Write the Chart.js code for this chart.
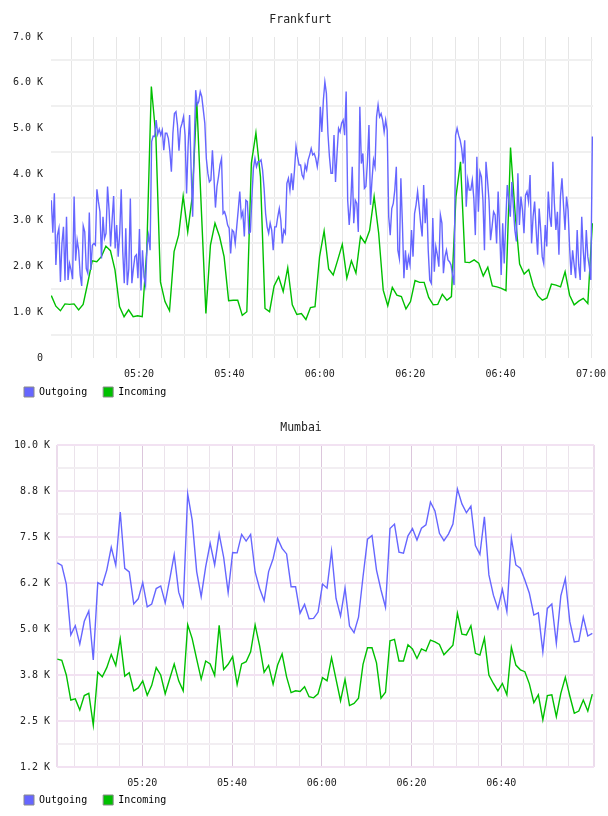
<!DOCTYPE html>
<html>
<head>
<meta charset="utf-8">
<title>Frankfurt / Mumbai traffic</title>
<script src="https://cdn.jsdelivr.net/npm/chart.js@4.4.1/dist/chart.umd.min.js"></script>
<style>
html,body{margin:0;padding:0;background:#fff;}
canvas{display:block;}
</style>
</head>
<body>
<canvas id="fra" width="608" height="407"></canvas>
<canvas id="mum" width="608" height="408"></canvas>
<script>
// time is minutes after 05:00, values are in K
const xLabelMinutes = [20, 40, 60, 80, 100, 120];
const fraXLabels = ["05:20", "05:40", "06:00", "06:20", "06:40", "07:00"];
const mumXLabels = ["05:20", "05:40", "06:00", "06:20", "06:40"];

const fraYValues = [0, 1, 2, 3, 4, 5, 6, 7];
const fraYLabels = ["0", "1.0 K", "2.0 K", "3.0 K", "4.0 K", "5.0 K", "6.0 K", "7.0 K"];
const mumYValues = [1.25, 2.5, 3.75, 5, 6.25, 7.5, 8.75, 10];
const mumYLabels = ["1.2 K", "2.5 K", "3.8 K", "5.0 K", "6.2 K", "7.5 K", "8.8 K", "10.0 K"];

// Frankfurt, outgoing sampled every ~20 s, incoming every ~1 min
const fraOutStart = 0.6, fraOutEnd = 120.3;
const fraOutgoing = [
  3.44,2.73,3.59,2.03,2.68,2.83,1.66,2.50,2.86,1.69,
  3.08,1.70,2.06,1.92,1.72,3.52,2.12,2.57,2.35,1.81,
  1.57,2.88,2.75,1.95,1.85,3.17,1.92,2.46,2.50,2.46,
  3.68,3.41,3.19,2.17,3.08,2.61,2.72,3.74,3.23,2.43,
  3.01,3.53,2.39,2.90,2.21,2.72,3.68,2.32,1.63,2.83,
  1.59,1.95,3.48,1.63,1.95,2.21,2.25,1.74,2.81,1.47,
  2.35,1.77,1.59,2.44,2.68,2.35,4.72,4.84,4.83,5.19,
  4.88,4.99,4.86,4.97,4.53,4.90,4.90,4.79,4.50,4.06,
  4.90,5.33,5.37,5.08,4.52,5.01,5.12,5.26,4.86,3.59,
  4.61,5.30,4.10,3.08,4.61,5.84,5.52,5.59,5.81,5.70,
  5.41,5.12,4.35,4.03,3.84,3.88,4.53,3.95,3.28,3.74,
  3.95,4.21,4.35,3.15,3.19,3.08,2.90,2.83,2.28,2.79,
  2.75,2.50,2.86,3.23,3.63,3.08,3.19,2.65,3.44,3.41,
  2.72,2.75,3.52,4.14,4.35,4.17,4.28,4.28,4.32,4.10,
  3.70,3.15,2.86,2.72,2.94,2.79,2.35,2.86,2.86,3.08,
  3.26,3.01,2.50,2.79,2.72,3.81,3.92,3.66,4.03,3.66,
  4.10,4.61,4.39,4.21,4.21,3.99,3.92,4.21,4.10,4.32,
  4.43,4.57,4.43,4.46,4.35,4.17,4.43,5.48,4.93,5.62,
  6.02,5.77,4.90,4.39,4.03,4.03,4.86,3.84,4.46,5.01,
  4.93,5.12,5.19,4.86,5.81,3.44,2.90,3.37,4.17,2.94,
  3.44,3.37,2.75,5.48,4.24,4.46,3.70,3.74,4.28,5.08,
  3.34,3.88,4.32,4.17,5.26,5.52,5.26,5.33,5.19,4.93,
  5.19,4.97,3.08,2.68,3.26,3.37,3.66,4.17,2.35,2.17,
  3.92,2.94,1.74,2.35,1.92,2.21,2.03,2.79,2.21,3.15,
  3.34,3.63,3.30,2.94,2.65,3.77,2.94,3.48,2.35,1.70,
  1.63,3.05,1.88,2.43,2.25,1.99,3.12,2.94,1.85,2.21,
  2.35,2.14,2.10,2.03,1.81,1.59,4.86,5.01,4.86,4.75,
  4.57,4.24,4.75,3.30,3.88,3.66,3.66,3.88,3.48,2.68,
  4.39,3.19,4.06,3.95,3.44,2.35,4.28,3.88,3.44,2.57,
  2.86,3.19,3.12,2.50,3.63,2.79,1.81,2.94,2.06,2.97,
  3.77,3.44,3.08,3.84,3.30,2.79,2.54,4.03,2.90,3.52,
  3.23,2.72,3.55,3.63,3.41,3.99,2.50,3.08,3.41,2.79,
  2.25,3.26,2.79,2.21,2.06,2.90,2.43,3.63,3.08,2.86,
  4.28,3.37,2.79,3.19,2.25,3.52,3.92,3.34,2.79,3.52,
  3.23,2.43,1.81,2.35,2.03,1.74,2.79,2.03,1.70,3.08,
  2.35,1.88,2.79,2.21,1.99,1.70,4.83
];
const fraInStart = 0.6, fraInEnd = 120.3;
const fraIncoming = [
  1.36,1.13,1.03,1.18,1.17,1.18,1.05,1.17,1.63,2.12,
  2.10,2.21,2.44,2.34,1.92,1.12,0.90,1.05,0.90,0.92,
  0.90,2.36,5.92,4.83,1.66,1.23,1.03,2.32,2.68,3.53,
  2.75,3.52,5.59,3.23,0.97,2.46,2.94,2.65,2.21,1.25,
  1.26,1.26,0.93,1.01,4.25,4.91,3.95,1.08,1.01,1.57,
  1.77,1.45,1.97,1.16,0.95,0.97,0.84,1.10,1.12,2.21,
  2.77,1.94,1.81,2.14,2.48,1.74,2.12,1.85,2.65,2.51,
  2.78,3.52,2.72,1.48,1.14,1.54,1.37,1.34,1.07,1.23,
  1.69,1.65,1.65,1.32,1.16,1.17,1.39,1.26,1.34,3.52,
  4.28,2.09,2.08,2.14,2.07,1.79,1.98,1.57,1.55,1.52,
  1.47,4.59,3.16,2.05,1.83,1.93,1.57,1.36,1.26,1.31,
  1.61,1.59,1.55,1.88,1.37,1.16,1.24,1.30,1.19,2.94
];

// Mumbai, both every ~1 min
const mumStart = 1.06, mumEnd = 120.28;
const mumOutgoing = [
  6.80,6.73,6.22,4.84,5.09,4.59,5.21,5.49,4.16,6.26,
  6.19,6.60,7.22,6.73,8.18,6.65,6.55,5.68,5.82,6.26,
  5.60,5.68,6.10,6.17,5.71,6.35,7.02,6.00,5.63,8.67,
  7.96,6.56,5.88,6.69,7.33,6.74,7.58,6.95,5.99,7.08,
  7.07,7.57,7.39,7.57,6.55,6.10,5.77,6.56,6.91,7.46,
  7.19,7.04,6.15,6.15,5.43,5.67,5.28,5.29,5.46,6.22,
  6.11,7.12,5.83,5.35,6.11,5.08,4.90,5.32,6.42,7.44,
  7.54,6.60,6.06,5.59,7.73,7.85,7.09,7.06,7.53,7.73,
  7.42,7.74,7.83,8.45,8.21,7.60,7.40,7.58,7.85,8.80,
  8.40,8.16,8.34,7.27,7.03,8.05,6.47,5.92,5.55,6.08,
  5.47,7.46,6.74,6.65,6.33,5.97,5.38,5.44,4.38,5.56,
  5.68,4.61,5.90,6.37,5.20,4.65,4.67,5.32,4.81,4.88
];
const mumIncoming = [
  4.18,4.15,3.75,3.07,3.10,2.80,3.19,3.25,2.39,3.83,
  3.70,3.95,4.31,4.01,4.73,3.72,3.81,3.32,3.40,3.59,
  3.20,3.47,3.95,3.75,3.24,3.65,4.05,3.59,3.32,5.12,
  4.74,4.18,3.64,4.13,4.05,3.74,5.10,3.90,4.04,4.25,
  3.49,4.05,4.11,4.38,5.11,4.54,3.82,4.01,3.50,4.02,
  4.32,3.70,3.27,3.32,3.30,3.43,3.16,3.13,3.24,3.68,
  3.59,4.22,3.63,3.05,3.63,2.92,2.98,3.12,4.04,4.49,
  4.49,4.08,3.12,3.28,4.68,4.72,4.13,4.13,4.57,4.46,
  4.20,4.46,4.40,4.70,4.65,4.58,4.30,4.43,4.56,5.43,
  4.86,4.84,5.09,4.34,4.29,4.75,3.75,3.52,3.32,3.52,
  3.21,4.50,4.02,3.89,3.84,3.51,3.00,3.21,2.53,3.19,
  3.21,2.62,3.25,3.69,3.18,2.71,2.77,3.07,2.77,3.23
];

const OUT = "rgb(102,102,255)";
const INC = "rgb(0,192,0)";

Chart.defaults.font.family = "'DejaVu Sans Mono', monospace";
Chart.defaults.font.size = 10;

function series(values, t0, t1){
  const step = (t1 - t0) / (values.length - 1);
  return values.map((v, i) => ({ x: t0 + i * step, y: v }));
}
function steps(from, to, step){
  const t = [];
  for (let v = from; v <= to + 1e-9; v += step) t.push(+v.toFixed(4));
  return t;
}
function labelAt(vals, labels, v){
  const i = vals.findIndex(x => Math.abs(x - v) < 1e-6);
  return i < 0 ? "" : labels[i];
}
function setTicks(list){ return ax => { ax.ticks = list.map(v => ({ value: v })); }; }
function noPad(ax){ ax.paddingLeft = ax.paddingRight = ax.paddingTop = ax.paddingBottom = 0; }

function legendOpts(){
  return {
    position: "bottom", align: "start",
    labels: {
      boxWidth: 10, boxHeight: 10, padding: 16, color: "#111", font: { size: 10 },
      generateLabels: ch => ch.data.datasets.map((d, i) => ({
        text: d.label, fillStyle: d.borderColor, strokeStyle: "#8a8a8a", lineWidth: 1, hidden: false, datasetIndex: i
      }))
    }
  };
}

function makeChart(id, c){
  return new Chart(document.getElementById(id), {
    type: "line",
    data: { datasets: [
      { label: "Outgoing", data: c.out, borderColor: OUT, borderWidth: 1.4 },
      { label: "Incoming", data: c.inc, borderColor: INC, borderWidth: 1.4 }
    ]},
    options: {
      responsive: false, animation: false,
      layout: { padding: { left: 8, right: c.padRight, top: 0, bottom: 0 } },
      elements: { point: { radius: 0 }, line: { tension: 0 } },
      plugins: {
        title: { display: true, text: c.title, color: "#222", font: { size: 11.5, weight: "normal" },
                 padding: { top: c.titleTop, bottom: c.titleBottom } },
        legend: legendOpts(),
        tooltip: { enabled: false }
      },
      scales: {
        x: {
          type: "linear", min: c.xMin, max: c.xMax,
          border: { display: false },
          afterBuildTicks: setTicks(c.xGrid),
          afterFit: ax => { ax.height = c.xHeight; noPad(ax); },
          grid: { drawTicks: false, color: c.xGridColor, lineWidth: c.xGridWidth || 1 },
          // mirror keeps the labels from being clipped to the short axis box;
          // the negative padding pushes them back below the plot
          ticks: { mirror: true, padding: -22, color: "#222", autoSkip: false, maxRotation: 0,
                   callback: v => labelAt(xLabelMinutes, c.xLabels, v) }
        },
        y: {
          min: c.yMin, max: c.yMax,
          border: { display: false },
          afterBuildTicks: setTicks(c.yGrid),
          afterFit: ax => { ax.width = c.yWidth; noPad(ax); },
          grid: { drawTicks: false, lineWidth: 2, color: c.yGridColor },
          ticks: { padding: c.yPad, color: "#222", autoSkip: false,
                   callback: v => labelAt(c.yVals, c.yLabels, v) }
        }
      }
    }
  });
}

makeChart("fra", {
  title: "Frankfurt", titleTop: 13, titleBottom: 10.2, padRight: 15,
  out: series(fraOutgoing, fraOutStart, fraOutEnd),
  inc: series(fraIncoming, fraInStart, fraInEnd),
  xMin: 0.53, xMax: 120.44, xGrid: steps(5, 120, 5), xLabels: fraXLabels, xHeight: 13,
  xGridColor: "#e6e6e6",
  yMin: 0, yMax: 7, yGrid: steps(0, 7, 0.5), yVals: fraYValues, yLabels: fraYLabels, yWidth: 43, yPad: 8,
  yGridColor: ctx => labelAt(fraYValues, fraYLabels, ctx.tick.value) ? "rgba(0,0,0,0)" : "#f0f0f0"
});

const mumXMin = 0.99, mumXMax = 120.66;
makeChart("mum", {
  title: "Mumbai", titleTop: 14, titleBottom: 10.2, padRight: 14,
  out: series(mumOutgoing, mumStart, mumEnd),
  inc: series(mumIncoming, mumStart, mumEnd),
  xMin: mumXMin, xMax: mumXMax, xGrid: [mumXMin].concat(steps(5, 115, 5), [mumXMax]), xLabels: mumXLabels, xHeight: 12,
  xGridColor: ctx => {
    const v = ctx.tick.value;
    if (v === mumXMin || v === mumXMax) return "#ecdcec";
    return v % 20 === 0 ? "#dcc6dc" : "#ebe3eb";
  },
  xGridWidth: ctx => (ctx.tick.value === mumXMin || ctx.tick.value === mumXMax) ? 2 : 1,
  yMin: 1.25, yMax: 10, yGrid: steps(1.25, 10, 0.625), yVals: mumYValues, yLabels: mumYLabels, yWidth: 49, yPad: 7,
  yGridColor: ctx => labelAt(mumYValues, mumYLabels, ctx.tick.value) ? "#f2e2f2" : "#f2eef2"
});
</script>
</body>
</html>
